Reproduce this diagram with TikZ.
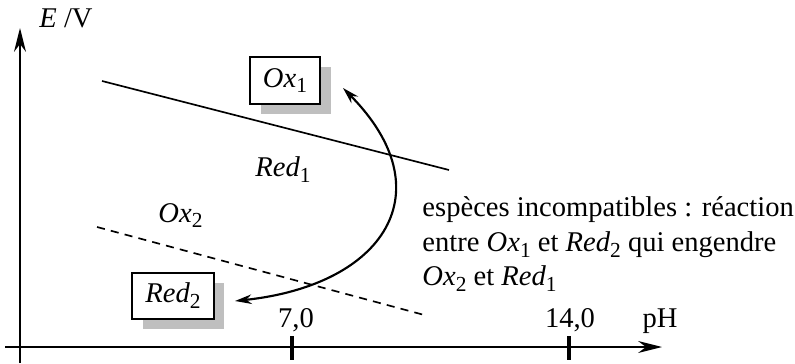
\documentclass[tikz,border=0pt]{standalone}
\usepackage{fontspec}
\setmainfont{Liberation Serif}
\usetikzlibrary{arrows.meta, shadows}
\tikzset{
  axis/.style={line width=0.8pt, -{Stealth[length=10pt, width=5pt]}},
  tick/.style={line width=1.3pt},
  espbox/.style={draw, line width=1pt, fill=white, inner xsep=5.5pt, inner ysep=3pt,
    minimum height=19.5pt,
    drop shadow={shadow xshift=4.5pt, shadow yshift=-4.2pt, fill=gray!50, opacity=1}},
  arr/.style={{Stealth[length=7pt, width=4pt]}-{Stealth[length=7pt, width=4pt]}, line width=0.9pt},
}
\newcommand{\esp}[2]{\textit{#1}\raisebox{-0.45ex}{\small #2}}

\begin{document}
\begin{tikzpicture}[x=0.42pt, y=0.42pt, font=\fontsize{12}{14.6}\selectfont,
    lbl/.style={anchor=base, inner sep=0pt}]
    \useasboundingbox (0,0) rectangle (795,363);
    % axes
    \coordinate (ybot) at (20,0);
    \coordinate (ytop) at (20,335);
    \coordinate (xbeg) at (5,16);
    \coordinate (xend) at (662,16);
    \draw[axis] (ybot) -- (ytop);
    \draw[axis] (xbeg) -- (xend);
    \draw[tick] (292,27) -- (292,3);
    \draw[tick] (569,27) -- (569,3);
    \node[lbl] (e) at (66,335) {\textit{E} /V};
    \node[lbl] (ph7) at (296,36) {7,0};
    \node[lbl] (ph14) at (570,36) {14,0};
    \node[lbl] (ph) at (660,36) {pH};
    % frontieres
    \coordinate (s1) at (102,282);
    \coordinate (s2) at (449,193);
    \coordinate (d1) at (97,136);
    \coordinate (d2) at (428,47);
    \draw[line width=0.7pt] (s1) -- (s2);
    \draw[line width=0.7pt, dash pattern=on 3.4pt off 2.6pt] (d1) -- (d2);
    % especes
    \node[espbox] (ox1) at (285,282.5) {\esp{Ox}{1}};
    \node[espbox] (red2) at (173,67) {\esp{Red}{2}};
    \node[lbl, anchor=base west] (red1) at (255,186) {\esp{Red}{1}};
    \node[lbl, anchor=base west] (ox2) at (158,141) {\esp{Ox}{2}};
    % reaction
    \coordinate (tipr) at (235,62);
    \coordinate (tipo) at (343,275);
    \draw[arr] (tipr) .. controls (385,78) and (445,172) .. (tipo);
    \node[anchor=north west, align=left, inner sep=0pt] (note) at (422,167)
      {espèces incompatibles : réaction\\
       entre \esp{Ox}{1} et \esp{Red}{2} qui engendre\\
       \esp{Ox}{2} et \esp{Red}{1}};
  \end{tikzpicture}
\end{document}
